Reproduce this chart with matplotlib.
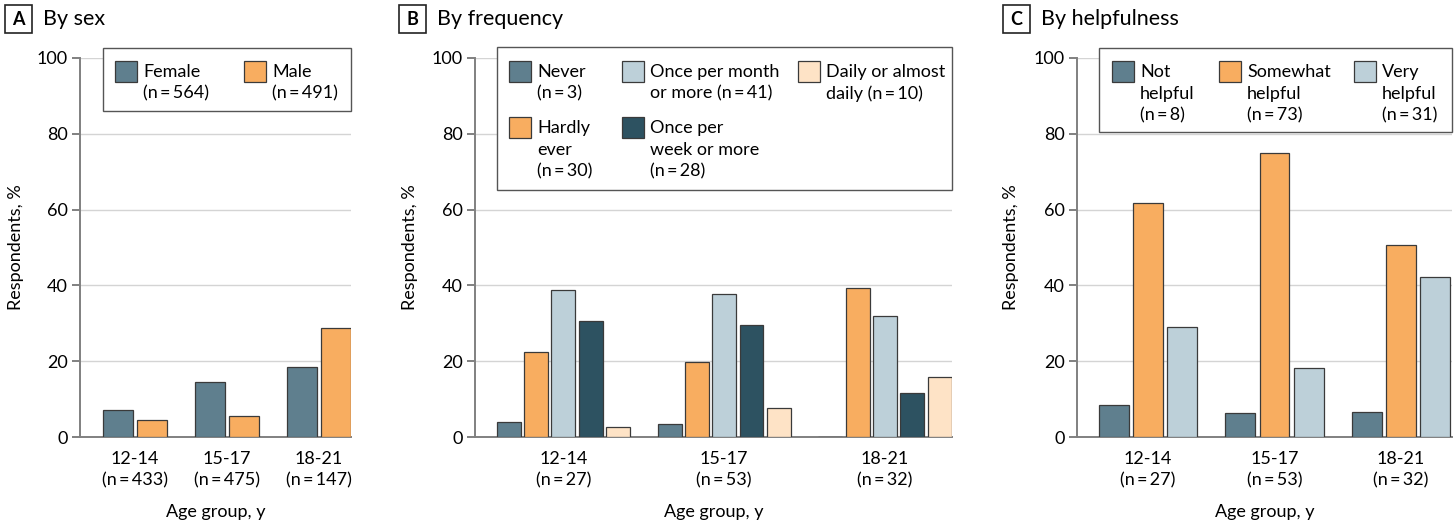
"""Three-panel bar chart: respondents by age group, split by sex, frequency
and helpfulness."""

import matplotlib

matplotlib.use("Agg")
import matplotlib.pyplot as plt
import numpy as np
from matplotlib.patches import Rectangle
from matplotlib.transforms import Affine2D

W, H = 1456, 524

AGE_GROUPS = ["12-14", "15-17", "18-21"]

# A: by sex
SEX_AGE_N = [433, 475, 147]
SEX_LABELS = ["Female", "Male"]
SEX_N = [564, 491]
SEX_FEMALE = [7.1, 14.6, 18.6]
SEX_MALE = [4.6, 5.5, 28.7]

# B: by frequency (bar order)
FREQ_AGE_N = [27, 53, 32]
FREQ_LABELS = ["Never", "Hardly\never", "Once per month\nor more", "Once per\nweek or more",
               "Daily or almost\ndaily"]
FREQ_N = [3, 30, 41, 28, 10]
FREQ_NEVER = [3.9, 3.5, 0.0]
FREQ_HARDLY = [22.5, 19.7, 39.2]
FREQ_MONTH = [38.9, 37.7, 32.0]
FREQ_WEEK = [30.7, 29.5, 11.6]
FREQ_DAILY = [2.6, 7.6, 15.9]

# C: by helpfulness
HELP_AGE_N = [27, 53, 32]
HELP_LABELS = ["Not\nhelpful", "Somewhat\nhelpful", "Very\nhelpful"]
HELP_N = [8, 73, 31]
HELP_NOT = [8.5, 6.3, 6.5]
HELP_SOMEWHAT = [61.7, 74.9, 50.6]
HELP_VERY = [28.9, 18.1, 42.1]

SLATE = "#5f7f8e"
ORANGE = "#f8ad60"
LIGHT = "#bdd0d9"
DARK = "#2d5261"
PEACH = "#fee3c6"
EDGE = "#3a3a3a"

FONT = ["Lato", "DejaVu Sans"]
FS = 13
plt.rcParams.update({
    "font.family": FONT,
    "font.size": FS,
    "axes.edgecolor": "#808080",
    "axes.linewidth": 1.4,
    "xtick.color": "#808080",
    "ytick.color": "#808080",
    "xtick.labelcolor": "black",
    "ytick.labelcolor": "black",
})

THIN = "\u2009"


def n_label(n):
    return f"(n{THIN}={THIN}{n})"


def legend_label(label, n):
    # n shares the last line when that line is short
    if label in ("Once per month\nor more", "Daily or almost\ndaily"):
        return f"{label} {n_label(n)}"
    return f"{label}\n{n_label(n)}"


def make_axes(fig, left, right, top=58, bottom=437):
    return fig.add_axes([left / W, (H - bottom) / H, (right - left) / W, (bottom - top) / H])


def style_axes(ax, xlim, age_n):
    ax.set_xlim(*xlim)
    ax.set_ylim(0, 100)
    ax.set_yticks([0, 20, 40, 60, 80, 100])
    ax.tick_params(axis="y", length=6, width=1.4, pad=3, labelsize=FS)
    ax.tick_params(axis="x", length=0, pad=10, labelsize=FS)
    ax.set_xticks(range(len(AGE_GROUPS)),
                  [f"{g}\n{n_label(n)}" for g, n in zip(AGE_GROUPS, age_n)])
    for t in ax.get_xticklabels():
        t.set_linespacing(1.45)
    for s in ("top", "right"):
        ax.spines[s].set_visible(False)
    ax.grid(axis="y", color="#d4d4d4", lw=1.0)
    ax.set_axisbelow(True)
    ax.set_ylabel("Respondents, %", fontsize=FS)
    ax.set_xlabel("Age group, y", fontsize=FS, va="center")
    ax.xaxis.set_label_coords(0.5, (437 - 512) / 379)


def grouped_bars(ax, series, colors, pitch, width):
    x = np.arange(len(AGE_GROUPS))
    k = len(series)
    for i, (vals, c) in enumerate(zip(series, colors)):
        ax.bar(x + (i - (k - 1) / 2) * pitch, vals, width, color=c, edgecolor=EDGE, lw=0.9, zorder=3)


def panel_title(fig, px, x_box, letter, title):
    fig.patches.append(Rectangle((x_box, 5), 27, 28, transform=px, fill=False,
                                 edgecolor="#222222", lw=1.2))
    fig.text(x_box + 13.5, 19.5, letter, transform=px, ha="center", va="center",
             fontsize=13, fontweight="bold")
    fig.text(x_box + 38, 19, title, transform=px, ha="left", va="center", fontsize=15.5)


def draw_legend(fig, px, box, entries):
    x0, y0, x1, y1 = box
    fig.patches.append(Rectangle((x0, y0), x1 - x0, y1 - y0, transform=px, facecolor="white",
                                 edgecolor="#555555", lw=1.0, zorder=5))
    for hx, hy, text, color in entries:
        fig.patches.append(Rectangle((hx, hy), 22, 21, transform=px, facecolor=color,
                                     edgecolor=EDGE, lw=0.9, zorder=6))
        for j, line in enumerate(text.split("\n")):
            fig.text(hx + 28, hy + 11 + j * 21.7, line, transform=px, ha="left",
                     va="center", fontsize=FS, zorder=7)


def main():
    fig = plt.figure(figsize=(W / 100, H / 100), dpi=100)
    px = Affine2D().scale(1 / W, -1 / H).translate(0, 1) + fig.transFigure

    # A
    ax = make_axes(fig, 80, 351)
    grouped_bars(ax, [SEX_FEMALE, SEX_MALE], [SLATE, ORANGE], 0.37, 0.326)
    style_axes(ax, (-0.598, 2.348), SEX_AGE_N)
    ax.yaxis.set_label_coords(-0.235 + 8 / 271, 0.5)
    panel_title(fig, px, 5, "A", "By sex")
    sex_lab = [legend_label(l, n) for l, n in zip(SEX_LABELS, SEX_N)]
    draw_legend(fig, px, (103, 48, 351, 111),
                [(115, 61, sex_lab[0], SLATE), (244, 61, sex_lab[1], ORANGE)])

    # B
    ax = make_axes(fig, 475, 952)
    grouped_bars(ax, [FREQ_NEVER, FREQ_HARDLY, FREQ_MONTH, FREQ_WEEK, FREQ_DAILY],
                 [SLATE, ORANGE, LIGHT, DARK, PEACH], 0.17, 0.149)
    style_axes(ax, (-0.55, 2.417), FREQ_AGE_N)
    ax.yaxis.set_label_coords(-0.136 + 8 / 477, 0.5)
    panel_title(fig, px, 399, "B", "By frequency")
    fl = [legend_label(l, n) for l, n in zip(FREQ_LABELS, FREQ_N)]
    draw_legend(fig, px, (497, 47, 952, 190),
                [(509, 61, fl[0], SLATE), (622, 61, fl[2], LIGHT), (798, 61, fl[4], PEACH),
                 (509, 117, fl[1], ORANGE), (622, 117, fl[3], DARK)])

    # C
    ax = make_axes(fig, 1077, 1452)
    grouped_bars(ax, [HELP_NOT, HELP_SOMEWHAT, HELP_VERY], [SLATE, ORANGE, LIGHT], 0.271, 0.237)
    style_axes(ax, (-0.561, 2.403), HELP_AGE_N)
    ax.yaxis.set_label_coords(-0.175 + 8 / 375, 0.5)
    panel_title(fig, px, 1003, "C", "By helpfulness")
    hl = [legend_label(l, n) for l, n in zip(HELP_LABELS, HELP_N)]
    draw_legend(fig, px, (1099, 48, 1452, 132),
                [(1112, 61, hl[0], SLATE), (1219, 61, hl[1], ORANGE), (1354, 61, hl[2], LIGHT)])

    fig.savefig("out.png", dpi=100)
    plt.close(fig)


if __name__ == "__main__":
    main()
